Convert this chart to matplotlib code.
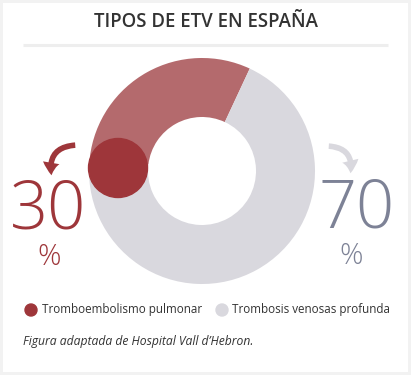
import matplotlib.pyplot as plt
from matplotlib.patches import Circle, Rectangle, FancyArrowPatch

# datos
labels = ["Tromboembolismo pulmonar", "Trombosis venosas profunda"]
values = [30, 70]
colors = ["#b46a6d", "#d9d8de"]
dot_colors = ["#9e363a", "#d9d8de"]
text_colors = ["#9e363a", "#7d8296"]

W, H = 411, 375
fig = plt.figure(figsize=(W / 100, H / 100), dpi=100)
fig.patch.set_facecolor("#f2f2f2")
ax = fig.add_axes([0, 0, 1, 1])


def Y(y):
    # pasar de coordenadas de pixel (arriba->abajo) a datos
    return H - y


# panel blanco
ax.add_patch(Rectangle((3, Y(372)), 405, 369, facecolor="white", edgecolor="none", zorder=0))

# titulo
ax.text(205.5, Y(22), "TIPOS DE ETV EN ESPAÑA", ha="center", va="center", fontsize=13.4,
        family="Open Sans", fontweight="semibold", color="#333333")
ax.plot([23, 388], [Y(44.5), Y(44.5)], color="#eeeeee", lw=2.2, solid_capstyle="butt")

# donut
cx, cy = 202, Y(171)
R = 113
ax.pie(values, colors=colors, startangle=65, counterclock=True, radius=R, center=(cx, cy),
       wedgeprops=dict(width=59, edgecolor="none"), frame=True)
ax.add_patch(Circle((cx - 84, cy + 3), 29.5, color=dot_colors[0], zorder=5))

# porcentajes
ax.text(48.5, Y(211), str(values[0]), ha="center", va="center", fontsize=48,
        family="Open Sans", fontweight="light", color=text_colors[0])
ax.text(49.5, Y(257), "%", ha="center", va="center", fontsize=21,
        family="Open Sans", fontweight="light", color=text_colors[0])
ax.text(356.5, Y(210), str(values[1]), ha="center", va="center", fontsize=48,
        family="Open Sans", fontweight="light", color=text_colors[1])
ax.text(351.5, Y(256), "%", ha="center", va="center", fontsize=21,
        family="Open Sans", fontweight="light", color=text_colors[1])

# flechas
ax.add_patch(FancyArrowPatch((78, Y(145)), (52, Y(178)), connectionstyle="arc3,rad=0.6",
                             arrowstyle="Simple,tail_width=4,head_width=12,head_length=9",
                             color=dot_colors[0], lw=0, zorder=4))
ax.add_patch(FancyArrowPatch((326, Y(146)), (350, Y(176)), connectionstyle="arc3,rad=-0.6",
                             arrowstyle="Simple,tail_width=4,head_width=12,head_length=9",
                             color=dot_colors[1], lw=0, zorder=4))

# leyenda
ax.add_patch(Circle((31, Y(310)), 6, color=dot_colors[0]))
ax.text(42, Y(310), labels[0], ha="left", va="center", fontsize=8.4, family="Open Sans", color="#333333")
ax.add_patch(Circle((222, Y(310)), 6, color=dot_colors[1]))
ax.text(232, Y(310), labels[1], ha="left", va="center", fontsize=8.4, family="Open Sans", color="#333333")

ax.text(23, Y(342), "Figura adaptada de Hospital Vall d\u2019Hebron.", ha="left", va="center",
        fontsize=8.7, family="Open Sans", style="italic", color="#333333")

ax.set_xlim(0, W)
ax.set_ylim(0, H)
ax.set_aspect("auto")
ax.axis("off")

fig.savefig("out.png", dpi=100, facecolor=fig.get_facecolor())
